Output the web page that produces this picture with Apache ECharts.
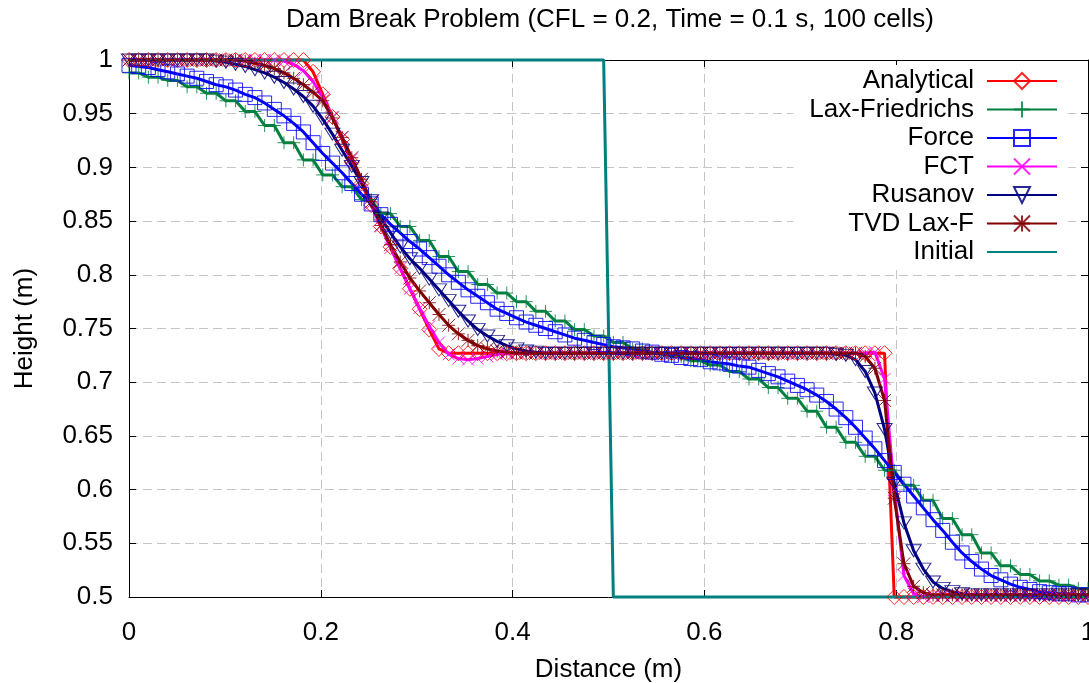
<!DOCTYPE html>
<html>
<head>
<meta charset="utf-8">
<title>Dam Break Problem</title>
<script src="https://cdn.jsdelivr.net/npm/echarts@6/dist/echarts.min.js"></script>
<style>
  html, body { margin: 0; padding: 0; background: #ffffff; }
  #chart { width: 1089px; height: 683px; }
</style>
</head>
<body>
<div id="chart"></div>
<script>
// 100 cells, sampled evenly from 0 to 1 m
const cellCount = 100
const distance = Array.from({ length: cellCount }, (_, i) => i / (cellCount - 1))

const xTicks = [0, 0.2, 0.4, 0.6, 0.8, 1]
const yTicks = [0.5, 0.55, 0.6, 0.65, 0.7, 0.75, 0.8, 0.85, 0.9, 0.95, 1]

const analytical = [
  1, 1, 1, 1, 1, 1, 1, 1, 1, 1,
  1, 1, 1, 1, 1, 1, 1, 1, 1, 0.989,
  0.968, 0.947, 0.926, 0.905, 0.885, 0.865, 0.845, 0.826, 0.806, 0.787,
  0.768, 0.749, 0.731, 0.727, 0.727, 0.727, 0.727, 0.727, 0.727, 0.727,
  0.727, 0.727, 0.727, 0.727, 0.727, 0.727, 0.727, 0.727, 0.727, 0.727,
  0.727, 0.727, 0.727, 0.727, 0.727, 0.727, 0.727, 0.727, 0.727, 0.727,
  0.727, 0.727, 0.727, 0.727, 0.727, 0.727, 0.727, 0.727, 0.727, 0.727,
  0.727, 0.727, 0.727, 0.727, 0.727, 0.727, 0.727, 0.727, 0.727, 0.5,
  0.5, 0.5, 0.5, 0.5, 0.5, 0.5, 0.5, 0.5, 0.5, 0.5,
  0.5, 0.5, 0.5, 0.5, 0.5, 0.5, 0.5, 0.5, 0.5, 0.5
]

const laxFriedrichs = [
  0.988, 0.988, 0.984, 0.984, 0.981, 0.981, 0.975, 0.975, 0.969, 0.969,
  0.962, 0.962, 0.952, 0.952, 0.939, 0.939, 0.923, 0.923, 0.907, 0.907,
  0.893, 0.893, 0.882, 0.882, 0.870, 0.870, 0.857, 0.857, 0.845, 0.845,
  0.832, 0.832, 0.817, 0.817, 0.803, 0.803, 0.791, 0.791, 0.783, 0.783,
  0.775, 0.775, 0.766, 0.766, 0.757, 0.757, 0.749, 0.749, 0.743, 0.743,
  0.737, 0.737, 0.731, 0.731, 0.727, 0.727, 0.724, 0.724, 0.720, 0.720,
  0.716, 0.716, 0.710, 0.710, 0.703, 0.703, 0.695, 0.695, 0.685, 0.685,
  0.673, 0.673, 0.658, 0.658, 0.644, 0.644, 0.631, 0.631, 0.618, 0.618,
  0.604, 0.604, 0.590, 0.590, 0.573, 0.573, 0.558, 0.558, 0.541, 0.541,
  0.529, 0.529, 0.521, 0.521, 0.515, 0.515, 0.511, 0.511, 0.508, 0.508
]

const force = [
  0.995, 0.994, 0.993, 0.991, 0.989, 0.987, 0.985, 0.983, 0.980, 0.977,
  0.975, 0.972, 0.968, 0.965, 0.960, 0.954, 0.948, 0.941, 0.933, 0.923,
  0.913, 0.904, 0.895, 0.885, 0.875, 0.866, 0.856, 0.847, 0.839, 0.831,
  0.824, 0.816, 0.808, 0.800, 0.793, 0.786, 0.780, 0.774, 0.768, 0.764,
  0.760, 0.756, 0.753, 0.750, 0.747, 0.744, 0.741, 0.739, 0.737, 0.735,
  0.733, 0.732, 0.731, 0.729, 0.728, 0.726, 0.725, 0.723, 0.722, 0.721,
  0.719, 0.718, 0.717, 0.715, 0.714, 0.711, 0.708, 0.705, 0.701, 0.697,
  0.693, 0.688, 0.682, 0.675, 0.667, 0.658, 0.648, 0.638, 0.627, 0.616,
  0.605, 0.594, 0.583, 0.572, 0.562, 0.551, 0.541, 0.533, 0.526, 0.520,
  0.516, 0.512, 0.509, 0.507, 0.505, 0.504, 0.503, 0.503, 0.502, 0.502
]

const fct = [
  1, 1, 1, 1, 1, 1, 1, 1, 1, 1,
  1, 1, 1, 1, 1, 1, 0.999, 0.996, 0.990, 0.980,
  0.965, 0.947, 0.928, 0.908, 0.887, 0.866, 0.845, 0.825, 0.806, 0.787,
  0.769, 0.752, 0.737, 0.726, 0.722, 0.721, 0.722, 0.724, 0.726, 0.727,
  0.727, 0.727, 0.727, 0.727, 0.727, 0.727, 0.727, 0.727, 0.727, 0.727,
  0.727, 0.727, 0.727, 0.727, 0.727, 0.727, 0.727, 0.727, 0.727, 0.727,
  0.727, 0.727, 0.727, 0.727, 0.727, 0.727, 0.727, 0.727, 0.727, 0.727,
  0.727, 0.727, 0.727, 0.727, 0.727, 0.727, 0.727, 0.728, 0.703, 0.600,
  0.520, 0.503, 0.500, 0.501, 0.501, 0.501, 0.501, 0.501, 0.501, 0.501,
  0.501, 0.501, 0.501, 0.501, 0.501, 0.501, 0.501, 0.501, 0.501, 0.501
]

const rusanov = [
  1, 1, 1, 1, 1, 1, 1, 1, 1, 0.999,
  0.998, 0.996, 0.994, 0.991, 0.988, 0.984, 0.979, 0.973, 0.966, 0.957,
  0.945, 0.931, 0.916, 0.901, 0.886, 0.869, 0.853, 0.839, 0.826, 0.815,
  0.806, 0.796, 0.786, 0.776, 0.766, 0.757, 0.749, 0.743, 0.738, 0.734,
  0.731, 0.729, 0.728, 0.727, 0.727, 0.727, 0.727, 0.727, 0.727, 0.727,
  0.727, 0.727, 0.727, 0.727, 0.727, 0.727, 0.727, 0.727, 0.727, 0.727,
  0.727, 0.727, 0.727, 0.727, 0.727, 0.727, 0.727, 0.727, 0.727, 0.727,
  0.727, 0.727, 0.727, 0.726, 0.725, 0.721, 0.710, 0.690, 0.656, 0.606,
  0.569, 0.543, 0.526, 0.514, 0.508, 0.505, 0.503, 0.502, 0.502, 0.502,
  0.502, 0.502, 0.502, 0.502, 0.502, 0.502, 0.502, 0.502, 0.502, 0.502
]

const tvdLaxF = [
  1, 1, 1, 1, 1, 1, 1, 1, 1, 1,
  1, 1, 0.999, 0.997, 0.995, 0.992, 0.988, 0.983, 0.977, 0.970,
  0.962, 0.946, 0.928, 0.909, 0.889, 0.868, 0.846, 0.828, 0.812, 0.797,
  0.785, 0.774, 0.763, 0.753, 0.745, 0.739, 0.734, 0.731, 0.729, 0.728,
  0.727, 0.727, 0.727, 0.727, 0.727, 0.727, 0.727, 0.727, 0.727, 0.727,
  0.727, 0.727, 0.727, 0.727, 0.727, 0.727, 0.727, 0.727, 0.727, 0.727,
  0.727, 0.727, 0.727, 0.727, 0.727, 0.727, 0.727, 0.727, 0.727, 0.727,
  0.727, 0.727, 0.727, 0.727, 0.727, 0.727, 0.724, 0.713, 0.683, 0.592,
  0.531, 0.510, 0.504, 0.502, 0.502, 0.502, 0.502, 0.502, 0.502, 0.502,
  0.502, 0.502, 0.502, 0.502, 0.502, 0.502, 0.502, 0.502, 0.502, 0.502
]

const initial = [
  1, 1, 1, 1, 1, 1, 1, 1, 1, 1,
  1, 1, 1, 1, 1, 1, 1, 1, 1, 1,
  1, 1, 1, 1, 1, 1, 1, 1, 1, 1,
  1, 1, 1, 1, 1, 1, 1, 1, 1, 1,
  1, 1, 1, 1, 1, 1, 1, 1, 1, 1,
  0.5, 0.5, 0.5, 0.5, 0.5, 0.5, 0.5, 0.5, 0.5, 0.5,
  0.5, 0.5, 0.5, 0.5, 0.5, 0.5, 0.5, 0.5, 0.5, 0.5,
  0.5, 0.5, 0.5, 0.5, 0.5, 0.5, 0.5, 0.5, 0.5, 0.5,
  0.5, 0.5, 0.5, 0.5, 0.5, 0.5, 0.5, 0.5, 0.5, 0.5,
  0.5, 0.5, 0.5, 0.5, 0.5, 0.5, 0.5, 0.5, 0.5, 0.5
]

const font = 'Liberation Sans, Arial, sans-serif'

// gnuplot style point shapes
const plusPath = 'path://M5,0L5,10M0,5L10,5'
const crossPath = 'path://M0,0L10,10M10,0L0,10'
const starPath = 'path://M0,0L10,10M10,0L0,10M5,0L5,10M0,5L10,5'

function pairUp (values) {
  return values.map((h, i) => [distance[i], h])
}

function makeSeries (name, values, color, symbol, symbolSize, extra) {
  return Object.assign({
    name: name,
    type: 'line',
    data: pairUp(values),
    symbol: symbol,
    symbolSize: symbolSize,
    showSymbol: symbol !== 'none',
    showAllSymbol: true,
    clip: false,
    silent: true,
    animation: false,
    lineStyle: { color: color, width: 3 },
    itemStyle: { color: 'rgba(0,0,0,0)', borderColor: color, borderWidth: 1, opacity: 0.85 },
    emphasis: { disabled: true }
  }, extra || {})
}

const chart = echarts.init(document.getElementById('chart'))

const axisCommon = {
  type: 'value',
  axisLine: { show: true, onZero: false, lineStyle: { color: '#000', width: 1 } },
  axisTick: { show: true, inside: true, length: 7, lineStyle: { color: '#000', width: 1 } }
}

const option = {
  backgroundColor: '#ffffff',
  title: {
    text: 'Dam Break Problem (CFL = 0.2, Time = 0.1 s, 100 cells)',
    left: 610,
    top: 7,
    padding: 0,
    textAlign: 'center',
    textStyle: { fontFamily: font, fontSize: 26, fontWeight: 'normal', color: '#000' }
  },
  // keep the plot box fixed; labels may run to the canvas edge like the original
  grid: { left: 129, right: 1, top: 60, bottom: 86, containLabel: false, outerBoundsMode: 'none' },
  legend: {
    orient: 'vertical',
    right: 21,
    top: 65,
    align: 'right',
    itemWidth: 70,
    itemHeight: 20,
    itemGap: 0.5,
    padding: [2, 10, 4, 16],
    backgroundColor: '#ffffff',
    textStyle: { fontFamily: font, fontSize: 26, color: '#000', lineHeight: 28, padding: [0, 8, 0, 0] },
    data: ['Analytical', 'Lax-Friedrichs', 'Force', 'FCT', 'Rusanov', 'TVD Lax-F', 'Initial']
  },
  xAxis: [
    Object.assign({}, axisCommon, {
      min: xTicks[0],
      max: xTicks[xTicks.length - 1],
      interval: 0.2,
      name: 'Distance (m)',
      nameLocation: 'middle',
      nameGap: 60,
      nameTextStyle: { fontFamily: font, fontSize: 26, color: '#000' },
      axisLabel: { margin: 23, fontFamily: font, fontSize: 26, color: '#000' },
      splitLine: { show: true, lineStyle: { color: '#c4c4c4', width: 1, type: [9, 5] } }
    }),
    Object.assign({}, axisCommon, {
      position: 'top',
      min: xTicks[0],
      max: xTicks[xTicks.length - 1],
      interval: 0.2,
      axisLabel: { show: false },
      splitLine: { show: false }
    })
  ],
  yAxis: [
    Object.assign({}, axisCommon, {
      min: yTicks[0],
      max: yTicks[yTicks.length - 1],
      interval: 0.05,
      name: 'Height (m)',
      nameLocation: 'middle',
      nameGap: 91,
      nameTextStyle: { fontFamily: font, fontSize: 26, color: '#000' },
      axisLabel: { margin: 16, fontFamily: font, fontSize: 26, color: '#000' },
      splitLine: { show: true, lineStyle: { color: '#c4c4c4', width: 1, type: [9, 5] } }
    }),
    Object.assign({}, axisCommon, {
      position: 'right',
      min: yTicks[0],
      max: yTicks[yTicks.length - 1],
      interval: 0.05,
      axisLabel: { show: false },
      splitLine: { show: false }
    })
  ],
  series: [
    makeSeries('Analytical', analytical, '#ff0000', 'diamond', 15),
    makeSeries('Lax-Friedrichs', laxFriedrichs, '#008040', plusPath, 13),
    makeSeries('Force', force, '#0000ff', 'rect', 14),
    makeSeries('FCT', fct, '#ff00ff', crossPath, 12),
    makeSeries('Rusanov', rusanov, '#000080', 'triangle', [15, 12], { symbolRotate: 180 }),
    makeSeries('TVD Lax-F', tvdLaxF, '#800000', starPath, 13),
    makeSeries('Initial', initial, '#008080', 'none', 0, {
      itemStyle: { color: 'rgba(0,0,0,0)', borderColor: 'rgba(0,0,0,0)', borderWidth: 0 }
    })
  ]
}

chart.setOption(option)
</script>
</body>
</html>
